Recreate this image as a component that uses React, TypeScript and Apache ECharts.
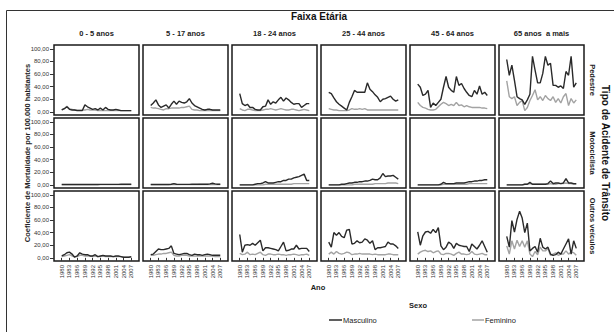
import React, { useEffect, useRef } from 'react';
import * as echarts from 'echarts';

const years = [1980, 1981, 1982, 1983, 1984, 1985, 1986, 1987, 1988, 1989, 1990, 1991, 1992, 1993, 1994, 1995, 1996, 1997, 1998, 1999, 2000, 2001, 2002, 2003, 2004, 2005, 2006, 2007];
const xTickYears = [1980, 1983, 1986, 1989, 1992, 1995, 1998, 2001, 2004, 2007];
const yTickValues = [0, 20, 40, 60, 80, 100];
const ageGroups = ['0 - 5 anos', '5 - 17 anos', '18 - 24 anos', '25 - 44 anos', '45 - 64 anos', '65 anos  a mais'];
const accidentTypes = ['Pedestre', 'Motociclista', 'Outros veículos'];
const sexes = ['Masculino', 'Feminino'];

const pedestreMasculino = [
  [3, 5, 8, 4, 3, 3, 2, 2, 2, 11, 8, 6, 4, 5, 3, 6, 3, 7, 4, 3, 3, 4, 3, 2, 2, 2, 2, 2],
  [10, 14, 19, 11, 7, 9, 11, 6, 12, 17, 12, 17, 15, 14, 16, 21, 14, 10, 8, 6, 4, 3, 4, 4, 3, 3, 3, 3],
  [29, 13, 10, 12, 7, 7, 4, 3, 3, 8, 9, 19, 12, 16, 14, 19, 23, 17, 22, 19, 15, 12, 13, 13, 7, 10, 13, 13],
  [31, 29, 22, 16, 12, 9, 6, 3, 15, 24, 34, 31, 31, 31, 31, 46, 36, 32, 27, 23, 16, 20, 21, 23, 25, 20, 17, 19],
  [44, 39, 26, 28, 34, 7, 14, 10, 15, 20, 39, 56, 39, 34, 31, 56, 42, 45, 37, 31, 26, 24, 34, 28, 41, 28, 31, 26],
  [83, 58, 74, 50, 24, 21, 19, 12, 19, 28, 88, 66, 46, 46, 61, 88, 74, 77, 42, 42, 39, 41, 37, 64, 58, 88, 39, 46],
];
const pedestreFeminino = [
  [3, 5, 9, 5, 4, 3, 3, 3, 3, 3, 4, 3, 3, 3, 2, 2, 2, 2, 2, 2, 2, 2, 2, 2, 2, 2, 2, 2],
  [7, 6, 6, 5, 4, 3, 5, 5, 6, 6, 6, 6, 7, 7, 8, 9, 4, 3, 3, 2, 2, 2, 2, 2, 2, 2, 2, 2],
  [5, 3, 2, 4, 4, 3, 2, 2, 2, 3, 4, 4, 5, 4, 3, 4, 5, 4, 3, 3, 4, 4, 3, 2, 3, 4, 3, 2],
  [5, 4, 3, 3, 2, 2, 2, 2, 3, 5, 4, 4, 5, 4, 5, 3, 3, 3, 3, 3, 3, 3, 3, 3, 3, 3, 3, 3],
  [15, 10, 7, 6, 4, 3, 3, 4, 8, 12, 15, 13, 10, 12, 10, 15, 10, 11, 8, 10, 8, 7, 7, 7, 7, 6, 6, 5],
  [49, 24, 21, 24, 10, 15, 18, 2, 7, 18, 26, 35, 19, 24, 18, 26, 21, 18, 24, 15, 21, 14, 24, 29, 10, 21, 14, 19],
];
const motociclistaMasculino = [
  [0.5, 0.5, 0.5, 0.5, 0.5, 0.5, 0.5, 0.5, 0.5, 0.6, 0.6, 0.6, 0.6, 0.6, 0.6, 0.7, 0.7, 0.7, 0.7, 0.8, 0.8, 0.8, 0.8, 0.9, 1, 1, 1, 1],
  [0.5, 0.5, 0.5, 0.5, 0.5, 0.5, 0.5, 0.5, 1, 2, 1, 0.8, 0.8, 0.8, 0.8, 0.8, 0.9, 0.9, 0.9, 1, 1, 1, 1, 1.5, 2.5, 1.5, 1, 1],
  [0, 0, 0, 0, 0, 0, 1, 2, 2, 3, 5, 3, 3, 3, 4, 5, 5, 7, 7, 9, 9, 11, 12, 13, 15, 17, 7, 7],
  [0, 0, 0, 0, 0, 1, 1, 2, 3, 3, 4, 4, 5, 5, 6, 6, 7, 9, 8, 8, 11, 18, 13, 14, 14, 15, 12, 9],
  [0, 0, 0, 0, 0, 0, 0, 0, 0, 1, 4, 2, 2, 2, 2, 3, 3, 3, 3, 4, 5, 5, 6, 6, 7, 7, 8, 8],
  [0, 0, 0, 0, 0, 0, 0, 1, 1, 4, 1, 1, 1, 1, 1, 1, 2, 6, 2, 3, 3, 2, 3, 10, 3, 3, 2, 2],
];
const motociclistaFeminino = [
  [0.3, 0.3, 0.3, 0.3, 0.3, 0.3, 0.3, 0.3, 0.3, 0.3, 0.3, 0.3, 0.3, 0.3, 0.3, 0.3, 0.3, 0.3, 0.3, 0.3, 0.3, 0.3, 0.3, 0.3, 0.3, 0.3, 0.3, 0.3],
  [0.3, 0.3, 0.3, 0.3, 0.3, 0.3, 0.3, 0.3, 0.5, 0.8, 0.5, 0.4, 0.4, 0.4, 0.4, 0.4, 0.4, 0.4, 0.4, 0.5, 0.5, 0.5, 0.5, 0.6, 0.8, 0.6, 0.5, 0.5],
  [0, 0, 0, 0, 0, 0, 0, 0, 0, 0, 1, 1, 1, 1, 1, 1, 1, 1, 1, 1, 1, 2, 2, 2, 2, 2, 2, 2],
  [0, 0, 0, 0, 0, 0, 0, 0, 0, 0, 1, 1, 1, 1, 1, 1, 1, 1, 2, 2, 2, 2, 2, 3, 3, 3, 3, 2],
  [0, 0, 0, 0, 0, 0, 0, 0, 0, 0, 1, 1, 1, 1, 1, 1, 1, 1, 1, 1, 2, 2, 2, 2, 2, 2, 2, 2],
  [0, 0, 0, 0, 0, 0, 0, 1, 1, 2, 1, 1, 1, 1, 1, 1, 1, 2, 1, 1, 2, 2, 2, 3, 2, 2, 1, 1],
];
const outrosMasculino = [
  [3, 5, 8, 9, 6, 1, 3, 8, 6, 5, 5, 3, 3, 5, 2, 3, 4, 3, 3, 3, 2, 3, 3, 2, 1, 1, 1, 2],
  [5, 6, 10, 14, 13, 13, 14, 15, 19, 7, 6, 5, 6, 7, 7, 5, 4, 6, 5, 5, 4, 5, 6, 5, 4, 4, 4, 4],
  [37, 9, 20, 21, 20, 23, 20, 24, 28, 11, 16, 16, 15, 14, 13, 11, 18, 25, 11, 12, 14, 14, 20, 14, 15, 15, 15, 10],
  [25, 17, 40, 36, 40, 34, 32, 44, 45, 22, 23, 27, 24, 25, 30, 28, 23, 27, 13, 16, 16, 17, 18, 25, 22, 22, 19, 15],
  [41, 20, 35, 41, 42, 39, 45, 40, 48, 19, 13, 17, 25, 22, 15, 23, 20, 19, 18, 18, 10, 22, 18, 14, 20, 27, 18, 9],
  [34, 17, 59, 41, 61, 74, 63, 40, 55, 11, 15, 18, 9, 31, 17, 14, 17, 6, 4, 5, 9, 6, 14, 22, 30, 6, 27, 15],
];
const outrosFeminino = [
  [2, 3, 4, 5, 3, 2, 2, 4, 4, 3, 3, 3, 2, 3, 2, 2, 3, 2, 2, 2, 2, 2, 2, 2, 1, 1, 1, 1],
  [4, 4, 5, 6, 6, 7, 7, 8, 9, 4, 3, 3, 4, 4, 4, 3, 3, 3, 3, 3, 3, 3, 3, 3, 3, 2, 2, 2],
  [7, 5, 6, 9, 5, 6, 5, 7, 9, 5, 4, 6, 6, 5, 5, 6, 5, 5, 4, 5, 5, 6, 5, 4, 5, 5, 6, 4],
  [6, 9, 6, 10, 7, 6, 7, 9, 8, 5, 6, 6, 7, 6, 6, 6, 6, 5, 6, 5, 5, 5, 5, 6, 6, 5, 5, 5],
  [6, 9, 11, 12, 10, 11, 8, 10, 11, 6, 5, 7, 7, 6, 4, 7, 9, 6, 6, 5, 6, 10, 6, 5, 6, 7, 5, 5],
  [19, 6, 27, 14, 28, 18, 27, 17, 27, 6, 2, 10, 5, 17, 11, 11, 15, 4, 6, 8, 4, 6, 6, 11, 6, 9, 8, 4],
];

const masculinoByType = [pedestreMasculino, motociclistaMasculino, outrosMasculino];
const femininoByType = [pedestreFeminino, motociclistaFeminino, outrosFeminino];

const FONT = 'Liberation Sans, Arial, sans-serif';
const MASC_COLOR = '#2a2a2a';
const FEM_COLOR = '#a3a3a3';

export default function App() {
  const ref = useRef<HTMLDivElement>(null);

  useEffect(() => {
    if (!ref.current) return;
    const chart = echarts.init(ref.current, null, { renderer: 'svg' });

    const colLeft = (c: number) => 54 + c * 89;
    const rowTop = [45, 118, 191];
    const panelW = 85;
    const panelH = 70;

    const grids: any[] = [];
    const xAxes: any[] = [];
    const yAxes: any[] = [];
    const series: any[] = [];

    accidentTypes.forEach((_, r) => {
      ageGroups.forEach((__, c) => {
        const k = r * 6 + c;
        grids.push({
          left: colLeft(c),
          top: rowTop[r],
          width: panelW,
          height: panelH,
          show: true,
          borderColor: '#1a1a1a',
          borderWidth: 1.5,
          backgroundColor: '#ffffff',
        });
        xAxes.push({
          type: 'value',
          gridIndex: k,
          min: 1977,
          max: 2010,
          axisLine: { show: false },
          splitLine: { show: false },
          axisTick: {
            show: r === 2,
            customValues: xTickYears,
            length: 3,
            lineStyle: { color: '#333', width: 1 },
          },
          axisLabel: {
            show: r === 2,
            customValues: xTickYears,
            rotate: 90,
            fontSize: 6,
            color: '#333',
            margin: 4,
            fontFamily: FONT,
            formatter: (v: number) => String(v),
          },
        });
        yAxes.push({
          type: 'value',
          gridIndex: k,
          min: -5,
          max: 106,
          axisLine: { show: false },
          splitLine: { show: false },
          axisTick: {
            show: c === 0,
            customValues: yTickValues,
            length: 4,
            lineStyle: { color: '#333', width: 1 },
          },
          axisLabel: {
            show: c === 0,
            customValues: yTickValues,
            fontSize: 6,
            color: '#333',
            margin: 5,
            fontFamily: FONT,
            formatter: (v: number) => v.toFixed(2).replace('.', ','),
          },
        });
        const fem = femininoByType[r][c];
        const masc = masculinoByType[r][c];
        series.push({
          name: sexes[1],
          type: 'line',
          xAxisIndex: k,
          yAxisIndex: k,
          data: years.map((y, i) => [y, fem[i]]),
          showSymbol: false,
          symbol: 'none',
          silent: true,
          lineStyle: { color: FEM_COLOR, width: 1.4 },
          itemStyle: { color: FEM_COLOR },
          z: 2,
        });
        series.push({
          name: sexes[0],
          type: 'line',
          xAxisIndex: k,
          yAxisIndex: k,
          data: years.map((y, i) => [y, masc[i]]),
          showSymbol: false,
          symbol: 'none',
          silent: true,
          lineStyle: { color: MASC_COLOR, width: 1.4 },
          itemStyle: { color: MASC_COLOR },
          z: 3,
        });
      });
    });

    const graphics: any[] = [
      {
        type: 'polyline',
        shape: { points: [[6.5, 332], [6.5, 10.5], [614, 10.5]] },
        style: { stroke: '#333', lineWidth: 1, fill: null },
        silent: true,
      },
      {
        type: 'text',
        x: 319,
        y: 16,
        style: { text: 'Faixa Etária', font: `bold 10px ${FONT}`, fill: '#111', align: 'center', verticalAlign: 'middle' },
      },
      ...ageGroups.map((g, c) => ({
        type: 'text',
        x: colLeft(c) + panelW / 2,
        y: 33,
        style: { text: g, font: `bold 7.5px ${FONT}`, fill: '#222', align: 'center', verticalAlign: 'middle' },
      })),
      ...accidentTypes.map((t, r) => ({
        type: 'text',
        x: 592,
        y: rowTop[r] + panelH / 2,
        rotation: -Math.PI / 2,
        style: { text: t, font: `bold 7.5px ${FONT}`, fill: '#222', align: 'center', verticalAlign: 'middle' },
      })),
      {
        type: 'text',
        x: 605,
        y: 153,
        rotation: -Math.PI / 2,
        style: { text: 'Tipo de Acidente de Trânsito', font: `bold 10px ${FONT}`, fill: '#111', align: 'center', verticalAlign: 'middle' },
      },
      {
        type: 'text',
        x: 27,
        y: 153,
        rotation: Math.PI / 2,
        style: { text: 'Coeficiente de Mortalidade por 100.000 habitantes', font: `bold 7.5px ${FONT}`, fill: '#222', align: 'center', verticalAlign: 'middle' },
      },
      {
        type: 'text',
        x: 318,
        y: 287,
        style: { text: 'Ano', font: `bold 7.5px ${FONT}`, fill: '#222', align: 'center', verticalAlign: 'middle' },
      },
      {
        type: 'text',
        x: 418,
        y: 305,
        style: { text: 'Sexo', font: `bold 7.5px ${FONT}`, fill: '#222', align: 'center', verticalAlign: 'middle' },
      },
      {
        type: 'line',
        shape: { x1: 329, y1: 320, x2: 342, y2: 320 },
        style: { stroke: MASC_COLOR, lineWidth: 1.5 },
      },
      {
        type: 'text',
        x: 343,
        y: 320,
        style: { text: sexes[0], font: `7.5px ${FONT}`, fill: '#222', align: 'left', verticalAlign: 'middle' },
      },
      {
        type: 'line',
        shape: { x1: 472, y1: 320, x2: 484, y2: 320 },
        style: { stroke: FEM_COLOR, lineWidth: 1.5 },
      },
      {
        type: 'text',
        x: 485,
        y: 320,
        style: { text: sexes[1], font: `7.5px ${FONT}`, fill: '#222', align: 'left', verticalAlign: 'middle' },
      },
    ];

    chart.setOption({
      animation: false,
      backgroundColor: '#ffffff',
      textStyle: { fontFamily: FONT },
      grid: grids,
      xAxis: xAxes,
      yAxis: yAxes,
      series,
      graphic: graphics,
    });

    return () => chart.dispose();
  }, []);

  return <div ref={ref} style={{ position: 'absolute', left: 0, top: 0, width: 614, height: 332 }} />;
}
